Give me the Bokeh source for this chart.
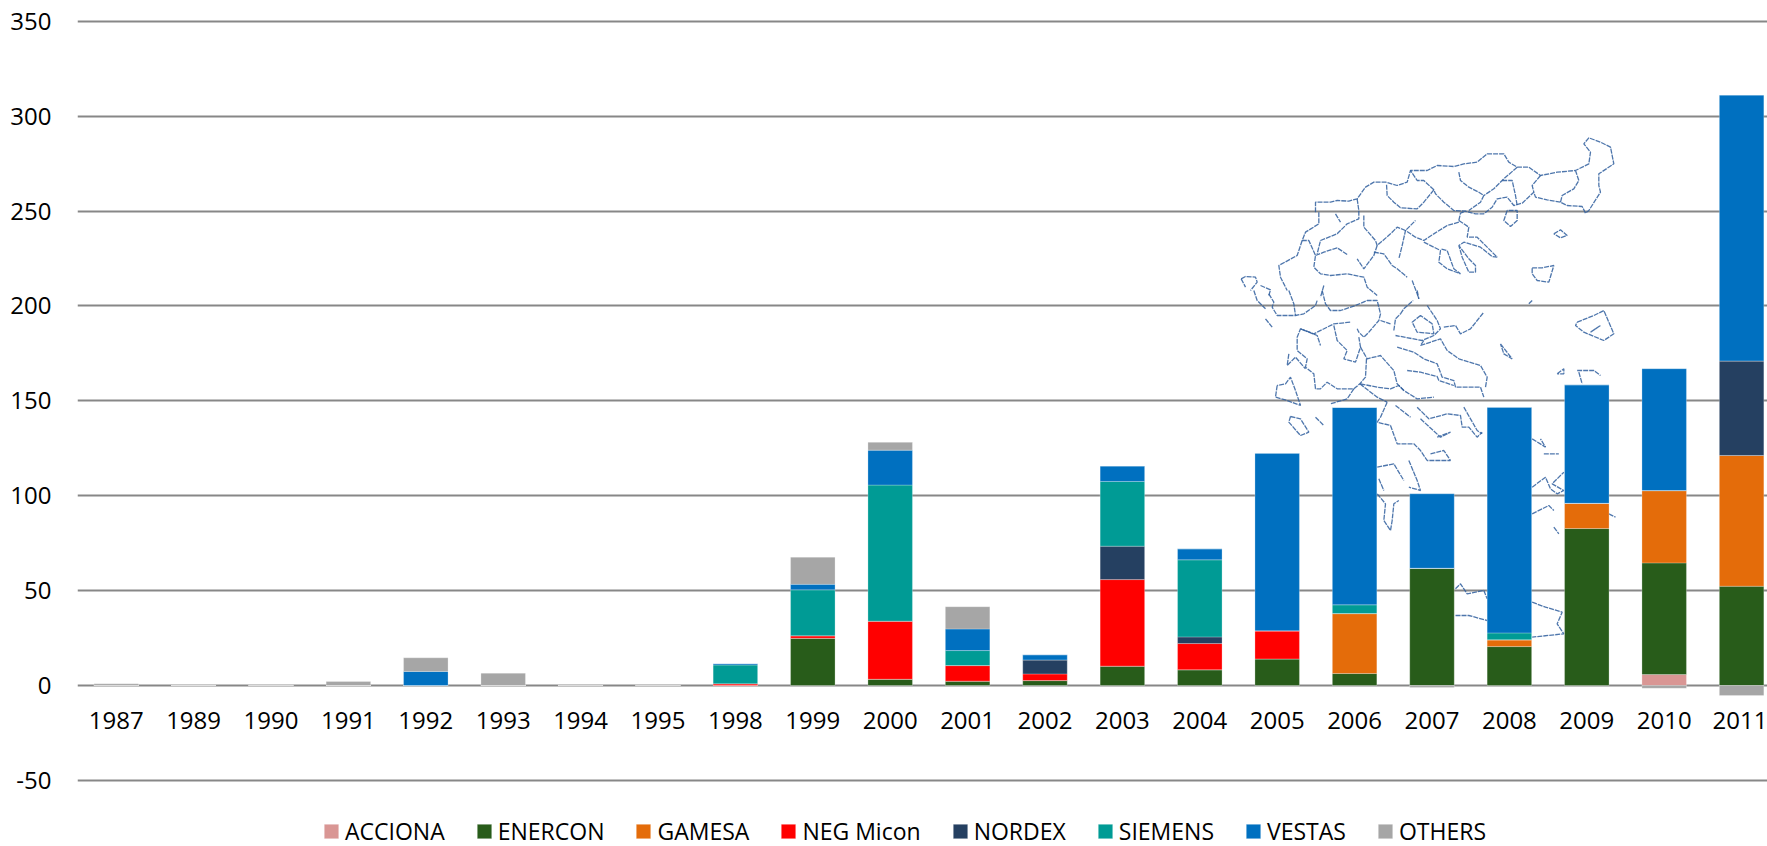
from bokeh.plotting import figure
from bokeh.models import Range1d, FixedTicker, Legend, LegendItem, ColumnDataSource
from bokeh.embed import file_html
from bokeh.resources import INLINE

years = ["1987","1989","1990","1991","1992","1993","1994","1995","1998","1999","2000","2001","2002","2003","2004","2005","2006","2007","2008","2009","2010","2011"]
ACCIONA  = [0,0,0,0,0,0,0,0,0,0,0,0,0,0,0,0,0,0,0,0,5.8,0]
ENERCON  = [0,0,0,0,0,0,0,0,0,24.9,3.3,2.3,2.6,10.2,8.3,14,6.3,61.8,20.5,82.7,58.8,52.3]
GAMESA   = [0,0,0,0,0,0,0,0,0,0,0,0,0,0,0,0,31.6,0,3.6,13.3,38.1,68.9]
NEG      = [0,0,0,0,0,0,0,0,0.9,1.3,30.6,8.2,3.5,45.6,13.8,14.8,0,0,0,0,0,0]
NORDEX   = [0,0,0,0,0,0,0,0,0,0,0,0,7.4,17.6,3.5,0,0,0,0,0,0,49.8]
SIEMENS  = [0,0,0,0,0,0,0,0,9.9,24.2,71.7,7.9,0,34.1,40.6,0,4.6,0,3.6,0,0,0]
VESTAS   = [0,0,0,0,7.4,0,0,0,0.7,2.9,18.4,11.4,2.7,8.1,5.8,93.6,104,39.2,118.9,62.4,64.2,140]
OTHERS   = [0.9,0.2,0.4,2.1,7.2,6.5,0.5,0.5,0,14.3,4.1,11.7,0,0,0,0,0,-1,0,0,-1.5,-5.3]

series = [("ACCIONA",ACCIONA,"#D99694"),("ENERCON",ENERCON,"#285C1A"),("GAMESA",GAMESA,"#E46C0A"),
          ("NEG Micon",NEG,"#FF0000"),("NORDEX",NORDEX,"#254061"),("SIEMENS",SIEMENS,"#009B95"),
          ("VESTAS",VESTAS,"#0070C0"),("OTHERS",OTHERS,"#A6A6A6")]
yticks = [-50,0,50,100,150,200,250,300,350]

# Decorative map of Greece behind the bars (traced outline, in page pixels x3, by crop)
MAP_TOP = [
 [(285,245),(285,215),(330,215),(350,210),(385,212),(410,205),(435,170),(460,155),(495,155),(530,165),(560,155),(570,120),(620,120),(650,105),(700,108),(730,100),(770,95),(800,70),(850,70),(865,95),(890,110),(925,110),(960,135),(1010,125),(1065,120),(1105,100),(1110,65),(1090,40),(1105,22),(1140,35),(1170,50),(1180,100),(1135,130),(1135,165),(1140,185),(1105,240),(1095,248),(1085,228),(1040,225),(1020,215),(1025,195),(1060,175),(1075,150),(1065,120)],
 [(1020,215),(980,208),(945,200),(940,185),(905,218),(880,225),(860,200),(830,205),(815,230),(790,250),(765,250),(735,242),(700,240),(670,215),(645,190),(640,178),(610,150),(590,150),(570,120)],
 [(640,178),(610,215),(590,235),(540,232),(520,215),(500,195),(498,160)],
 [(715,125),(720,150),(745,170),(775,185),(790,195),(780,215),(745,240)],
 [(890,110),(850,145),(820,175),(790,195)],
 [(845,150),(875,150),(885,195),(890,225)],
 [(960,135),(935,165),(940,185)],
 [(410,205),(415,240),(415,265),(380,280),(350,310),(300,330),(290,370)],
 [(295,245),(295,280),(255,305),(245,330),(265,330),(285,375),(280,410),(300,430),(330,435),(380,430),(430,440),(440,470),(470,495)],
 [(345,250),(360,275)],
 [(285,375),(310,365),(350,352),(380,372)],
 [(430,255),(430,290),(465,330),(470,345),(510,310),(530,290),(555,300),(585,270)],
 [(470,345),(460,375),(430,415),(410,385)],
 [(460,365),(490,370),(515,405),(530,415),(560,440)],
 [(245,330),(230,375),(175,405),(180,440),(200,480)],
 [(715,270),(720,248),(735,242)],
 [(715,270),(745,290),(740,320),(770,320),(790,340),(830,380),(815,378),(780,350),(730,335),(715,345),(745,385),(765,405),(765,425),(745,425),(725,380),(715,345)],
 [(715,275),(680,285),(640,310),(610,330),(585,320),(555,300),(545,345),(535,385)],
 [(610,335),(660,360),(655,395),(680,415),(720,430),(700,415),(680,360),(660,355)],
 [(860,240),(850,270),(870,288),(890,270),(890,240),(860,240)],
 [(1000,310),(1020,298),(1040,315),(1020,322),(1000,310)],
 [(935,412),(965,412),(1000,405),(985,455),(950,450),(935,430),(935,412)],
 [(62,445),(75,438),(105,440),(110,455),(90,480)],
 [(62,445),(75,470)],
 [(120,465),(150,478),(145,495)],
 [(575,450),(590,490),(595,505)],
 [(310,465),(300,500)],
]
MAP_MID = [
 [(100,0),(110,30),(135,55)],
 [(145,10),(160,35),(155,50),(170,75),(200,75),(225,75),(250,70),(285,45),(290,30)],
 [(205,0),(220,40),(225,75)],
 [(305,0),(315,40),(330,60),(360,60),(405,45),(440,30),(470,30),(480,70),(475,90),(445,125),(430,140),(415,125),(410,115)],
 [(540,70),(550,55),(578,30)],
 [(590,0),(595,25)],
 [(520,120),(525,85),(540,70)],
 [(480,90),(510,100)],
 [(620,45),(650,90),(660,115),(640,135),(605,150),(525,135)],
 [(600,75),(575,95),(590,125),(640,130),(635,100),(600,75)],
 [(670,110),(705,105),(720,130),(750,115),(770,90),(790,65)],
 [(610,150),(600,165),(660,145),(680,180),(715,205),(780,225),(800,260),(795,290)],
 [(530,170),(580,185),(610,205),(650,220),(665,260),(700,270),(705,290),(780,290),(790,320)],
 [(560,240),(600,245),(650,258),(655,270),(700,285)],
 [(340,105),(350,150),(380,180),(370,205),(405,215),(420,170),(415,140)],
 [(420,170),(440,205),(480,195),(520,240),(530,280),(550,300),(590,325),(640,320)],
 [(438,205),(435,260),(418,280),(400,295),(350,295),(320,275),(300,295),(285,295),(280,250),(255,230),(260,205),(230,180),(230,140),(240,115),(290,135),(300,165)],
 [(240,115),(280,130),(340,100),(390,95)],
 [(420,280),(470,290),(510,295),(535,285),(550,300)],
 [(418,280),(470,320),(500,335)],
 [(400,295),(380,325),(330,340)],
 [(170,285),(165,320),(200,330),(240,345),(225,300),(210,260),(195,280),(170,285)],
 [(205,190),(200,225),(225,200),(255,235)],
 [(135,85),(155,110)],
 [(210,378),(240,385),(265,425),(240,435),(205,395),(210,378)],
 [(285,380),(310,405)],
 [(500,335),(480,380),(470,395),(510,405),(530,460),(580,460),(600,480),(620,510),(690,510)],
 [(525,345),(570,380)],
 [(590,350),(625,385),(680,370),(720,375),(725,410),(745,410),(770,440),(785,425)],
 [(600,385),(660,440),(690,425),(650,440)],
 [(730,350),(770,420),(785,430)],
 [(630,490),(670,480),(690,510)],
 [(840,160),(875,205),(850,190),(840,160)],
 [(1070,95),(1120,75),(1150,60),(1180,130),(1150,150),(1090,125),(1065,105),(1070,95)],
 [(1110,125),(1140,105),(1110,125)],
 [(1070,240),(1120,240),(1140,255)],
 [(1075,245),(1085,280)],
 [(1010,250),(1030,235),(1030,250),(1010,250)],
 [(935,445),(975,470),(960,445)],
 [(970,490),(1015,490)],
 [(925,40),(935,30)],
]
MAP_LOW = [
 [(470,20),(520,10),(550,60)],
 [(565,0),(590,60),(600,90),(565,80)],
 [(470,100),(495,130),(490,180),(510,210),(515,180),(520,130),(535,120)],
 [(475,55),(490,90)],
 [(705,385),(720,370),(740,400),(790,390),(800,415)],
 [(705,465),(745,465),(800,480)],
 [(935,425),(975,440),(1025,455),(1010,490),(1030,520),(935,530)],
 [(935,160),(985,135),(1000,150)],
 [(935,80),(975,50),(990,85),(1010,100),(1030,90),(995,70),(1030,35)],
 [(1000,200),(1015,220)],
 [(1165,160),(1185,170)],
]

FONT = "Open Sans"
W, H = 1767, 846
PX_UNIT = 1.898      # pixels per data unit
STEP = 77.4
LEFT = 77
ZERO = 685.0
p = figure(width=W, height=H, output_backend="svg", toolbar_location=None,
           x_range=Range1d(-0.5, -0.5 + (W-LEFT)/STEP),
           y_range=Range1d((ZERO-H)/PX_UNIT, ZERO/PX_UNIT),
           min_border_left=LEFT, min_border_right=0, min_border_top=0, min_border_bottom=0)
p.outline_line_color = None
p.background_fill_color = "white"
p.xgrid.visible = False
g = p.ygrid[0]
g.ticker = FixedTicker(ticks=yticks)
g.grid_line_color = "#878787"
g.grid_line_width = 2

ya = p.yaxis[0]
ya.ticker = FixedTicker(ticks=yticks)
ya.major_label_overrides = {t: str(t) for t in yticks}
ya.axis_line_color = None
ya.major_tick_line_color = None
ya.minor_tick_line_color = None
ya.major_label_standoff = 20
ya.major_label_text_font = FONT
ya.major_label_text_font_size = "24px"
ya.major_label_text_color = "#000000"

xa = p.xaxis[0]
xa.fixed_location = 0
xa.ticker = FixedTicker(ticks=list(range(len(years))))
xa.major_label_overrides = {i: y for i, y in enumerate(years)}
xa.axis_line_color = None
xa.major_tick_line_color = None
xa.minor_tick_line_color = None
xa.major_label_standoff = 20
xa.major_label_text_font = FONT
xa.major_label_text_font_size = "24px"
xa.major_label_text_color = "#000000"

# map, behind the bars
mx, my = [], []
for traces, y0 in ((MAP_TOP, 130), (MAP_MID, 290), (MAP_LOW, 460)):
    for t in traces:
        mx.append([(1220 + a/3 - LEFT)/STEP - 0.5 for a, b in t])
        my.append([(ZERO - (y0 + b/3))/PX_UNIT for a, b in t])
p.multi_line(mx, my, line_color="#2F5E9E", line_width=1.3, line_dash="5 1", line_alpha=0.85)

pos = [0.0]*len(years)
neg = [0.0]*len(years)
items = []
xs = list(range(len(years)))
for name, vals, col in series:
    bottoms, tops = [], []
    for i, v in enumerate(vals):
        if v >= 0:
            bottoms.append(pos[i]); tops.append(pos[i]+v); pos[i] += v
        else:
            bottoms.append(neg[i]); tops.append(neg[i]+v); neg[i] += v
    src = ColumnDataSource(dict(x=xs, top=tops, bottom=bottoms))
    r = p.vbar(x="x", top="top", bottom="bottom", width=0.575, source=src, fill_color=col,
               line_color="#FFFFFF", line_alpha=0.25, line_width=1)
    items.append(LegendItem(label=name, renderers=[r]))

leg = Legend(items=items, orientation="horizontal", location=(245, -1), margin=0, padding=0,
             spacing=30, glyph_width=18, glyph_height=18, label_standoff=5,
             label_text_font=FONT, label_text_font_size="23px", label_text_color="#000000",
             background_fill_alpha=0, border_line_color=None)
p.add_layout(leg, "center")

open("out.html", "w").write(file_html(p, INLINE))
